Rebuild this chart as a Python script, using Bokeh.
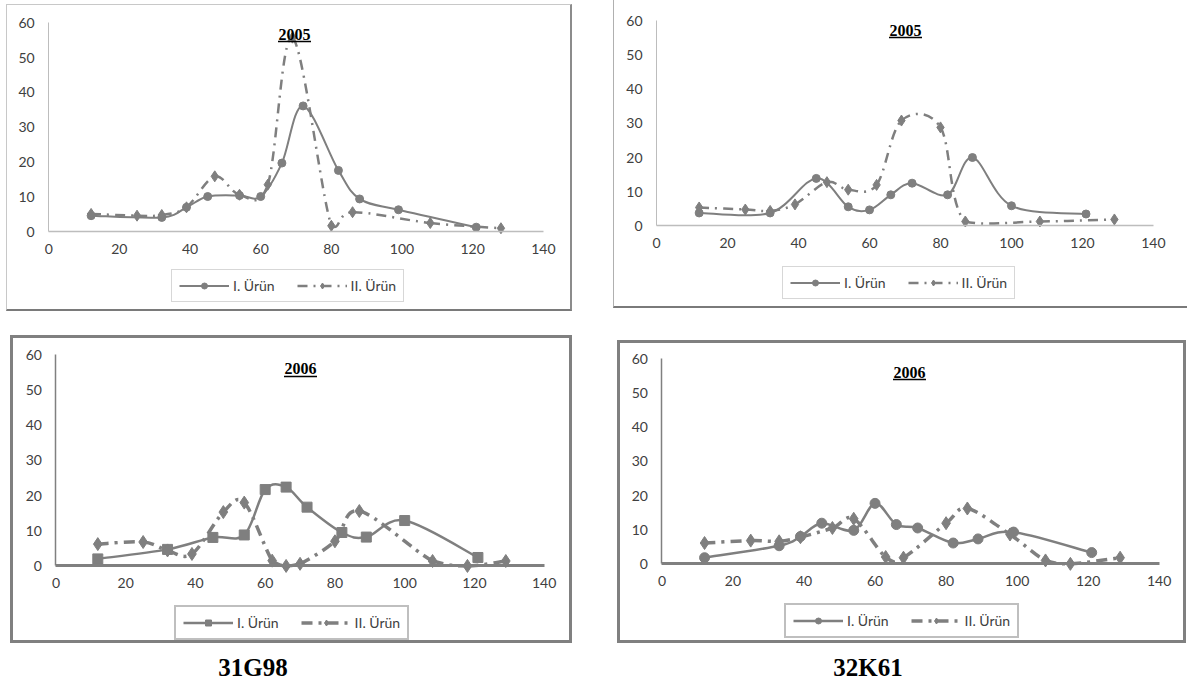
import numpy as np
from bokeh.plotting import figure
from bokeh.models import Legend, LegendItem, Label, Arrow, FixedTicker, Div
from bokeh.layouts import row, column
from bokeh.embed import file_html
from bokeh.resources import INLINE

# ---------------- data ----------------
x_ticks = [0, 20, 40, 60, 80, 100, 120, 140]
y_ticks = [0, 10, 20, 30, 40, 50, 60]
series_names = ["I. Ürün", "II. Ürün"]
panel_titles = ["2005", "2005", "2006", "2006"]
captions = ["31G98", "32K61"]

# 31G98 - 2005
g98_05_x1 = [12, 32, 39, 45, 54, 60, 66, 72, 82, 88, 99, 121]
g98_05_y1 = [4.6, 4.1, 7.0, 10.1, 10.4, 10.1, 19.7, 36.1, 17.6, 9.4, 6.3, 1.3]
g98_05_x2 = [12, 25, 32, 39, 47, 54, 62, 69, 80, 86, 108, 128]
g98_05_y2 = [5.1, 4.6, 4.8, 7.0, 15.9, 10.6, 13.5, 55.7, 1.7, 5.6, 2.5, 1.0]

# 32K61 - 2005
k61_05_x1 = [12, 32, 45, 54, 60, 66, 72, 82, 89, 100, 121]
k61_05_y1 = [3.8, 3.8, 13.9, 5.6, 4.7, 9.1, 12.5, 9.1, 20.0, 5.9, 3.5]
k61_05_x2 = [12, 25, 32, 39, 48, 54, 62, 69, 80, 87, 108, 129]
k61_05_y2 = [5.4, 4.8, 4.4, 6.3, 12.8, 10.6, 12.0, 30.8, 28.8, 1.3, 1.3, 1.9]

# 31G98 - 2006
g98_06_x1 = [12, 32, 45, 54, 60, 66, 72, 82, 89, 100, 121]
g98_06_y1 = [2.0, 4.7, 8.1, 8.8, 21.7, 22.4, 16.7, 9.5, 8.2, 12.9, 2.4]
g98_06_x2 = [12, 25, 32, 39, 48, 54, 62, 66, 70, 80, 87, 108, 118, 129]
g98_06_y2 = [6.2, 6.8, 4.4, 3.4, 15.3, 18.0, 1.5, 0.0, 0.6, 7.0, 15.6, 1.4, 0.0, 1.4]

# 32K61 - 2006
k61_06_x1 = [12, 33, 39, 45, 54, 60, 66, 72, 82, 89, 99, 121]
k61_06_y1 = [1.8, 5.3, 8.0, 11.9, 9.8, 17.7, 11.5, 10.5, 6.1, 7.3, 9.3, 3.3]
k61_06_x2 = [12, 25, 33, 39, 48, 54, 63, 68, 80, 86, 98, 108, 115, 129]
k61_06_y2 = [6.1, 6.8, 6.6, 7.8, 10.5, 13.2, 2.0, 1.8, 11.9, 16.2, 8.6, 1.0, 0.0, 1.8]

GRAY = "#7f7f7f"
TXT = "#404040"
FONT = "Lato"
X_MAX = 140
Y_MAX = 60


def smooth_controls(xs, ys):
    """Excel-like smoothed segments as cubic Bezier control points (kept >= 0)."""
    P = np.column_stack([np.asarray(xs, float), np.asarray(ys, float)])
    n = len(P)
    out = {k: [] for k in ("x0", "y0", "x1", "y1", "cx0", "cy0", "cx1", "cy1")}
    for i in range(n - 1):
        p0 = P[i - 1] if i > 0 else P[i]
        p1 = P[i]
        p2 = P[i + 1]
        p3 = P[i + 2] if i + 2 < n else P[i + 1]
        c1 = p1 + (p2 - p0) / 6.0
        c2 = p2 - (p3 - p1) / 6.0
        out["x0"].append(p1[0]); out["y0"].append(p1[1])
        out["x1"].append(p2[0]); out["y1"].append(p2[1])
        out["cx0"].append(c1[0]); out["cy0"].append(max(c1[1], 0.0))
        out["cx1"].append(c2[0]); out["cy1"].append(max(c2[1], 0.0))
    return out


def make_panel(s1, s2, title, W, H, left_px, plot_w, right_px, top_px, plot_h, below_px,
               styles, margin, heavy, legend_loc, title_xy, underline_dy, marker1):
    # the frame is the whole inner canvas; axes sit at x=0 / y=0 inside it
    ux = plot_w / X_MAX
    uy = plot_h / Y_MAX
    p = figure(width=W, height=H,
               x_range=(-left_px / ux, X_MAX + right_px / ux),
               y_range=(-below_px / uy, Y_MAX + top_px / uy),
               output_backend="svg", toolbar_location=None,
               min_border_left=0, min_border_right=0,
               min_border_top=0, min_border_bottom=0,
               margin=margin, styles=styles)
    p.outline_line_color = None
    p.xgrid.visible = False
    p.ygrid.visible = False
    p.background_fill_color = "white"
    p.border_fill_color = "white"

    for ax in (p.xaxis[0], p.yaxis[0]):
        ax.major_tick_line_color = None
        ax.minor_tick_line_color = None
        ax.major_tick_out = 0
        ax.major_tick_in = 0
        ax.minor_tick_out = 0
        ax.major_label_text_font = FONT
        ax.major_label_text_font_size = "14px"
        ax.major_label_text_color = TXT
        ax.fixed_location = 0
    p.xaxis.ticker = FixedTicker(ticks=x_ticks)
    p.yaxis.ticker = FixedTicker(ticks=y_ticks)
    p.xaxis.bounds = (0, X_MAX)
    p.yaxis.bounds = (0, Y_MAX)
    p.xaxis.major_label_standoff = 12
    p.yaxis.major_label_standoff = 14
    if heavy:
        p.xaxis.axis_line_color = "#808080"
        p.xaxis.axis_line_width = 3
        p.yaxis.axis_line_color = "#808080"
        p.yaxis.axis_line_width = 1.5
        lw1, lw2, dash2, msize = 2.5, 3.5, "11 6 3 6", 10
    else:
        p.xaxis.axis_line_color = "#bdbdbd"
        p.xaxis.axis_line_width = 1.5
        p.yaxis.axis_line_color = "#bdbdbd"
        p.yaxis.axis_line_width = 1
        lw1, lw2, dash2, msize = 2, 2.5, "10 6 2 6", 8

    (x1, y1), (x2, y2) = s1, s2
    p.bezier(line_color=GRAY, line_width=lw1, **smooth_controls(x1, y1))
    p.bezier(line_color=GRAY, line_width=lw2, line_dash=dash2, **smooth_controls(x2, y2))
    m1 = p.scatter(x1, y1, marker=marker1, size=msize, fill_color=GRAY, line_color=GRAY)
    m2 = p.scatter(x2, y2, marker="diamond", size=msize + 3, fill_color=GRAY, line_color=GRAY)
    # single-point lines: nothing visible on the plot, only used for the legend glyphs
    l1 = p.line(x=x1[:1], y=y1[:1], line_color=GRAY, line_width=lw1)
    l2 = p.line(x=x2[:1], y=y2[:1], line_color=GRAY, line_width=lw2, line_dash=dash2)

    legend = Legend(items=[LegendItem(label=series_names[0], renderers=[l1, m1]),
                           LegendItem(label=series_names[1], renderers=[l2, m2])],
                    location=legend_loc, orientation="horizontal",
                    border_line_color="#808080" if heavy else "#b0b0b0",
                    border_line_width=2.5 if heavy else 1,
                    padding=7, spacing=22, glyph_width=50, glyph_height=15,
                    label_height=15, label_standoff=4, label_text_font=FONT,
                    label_text_font_size="14px", label_text_color=TXT,
                    label_text_baseline="middle",
                    background_fill_color="white", background_fill_alpha=1,
                    margin=0)
    p.add_layout(legend)

    tx, ty = title_xy          # offsets from the (0, 0) axis corner, in pixels
    tx_s = tx + left_px
    ty_s = ty + below_px
    p.add_layout(Label(x=tx_s, y=ty_s, x_units="screen", y_units="screen", text=title,
                       text_font="Liberation Serif", text_font_style="bold",
                       text_font_size="16px", text_align="center",
                       text_baseline="middle", text_color="black"))
    p.add_layout(Arrow(start=None, end=None, x_start=tx_s - 16.5, y_start=ty_s - underline_dy,
                       x_end=tx_s + 16.5, y_end=ty_s - underline_dy,
                       start_units="screen", end_units="screen",
                       line_color="black", line_width=1.5))
    return p


p1 = make_panel((g98_05_x1, g98_05_y1), (g98_05_x2, g98_05_y2), panel_titles[0],
                W=566, H=307, left_px=41, plot_w=492, right_px=30,
                top_px=17, plot_h=207, below_px=80,
                styles={"border-top": "1px solid #c8c8c8", "border-left": "1px solid #c8c8c8",
                        "border-right": "2px solid #8c8c8c", "border-bottom": "2px solid #7a7a7a"},
                margin=(4, 0, 0, 6), heavy=False, legend_loc=(164, 10),
                title_xy=(246, 198), underline_dy=7, marker1="circle")

p2 = make_panel((k61_05_x1, k61_05_y1), (k61_05_x2, k61_05_y2), panel_titles[1],
                W=574, H=308, left_px=42, plot_w=496, right_px=35,
                top_px=20, plot_h=204, below_px=82,
                styles={"border-left": "1px solid #b0b0b0", "border-bottom": "2px solid #7a7a7a"},
                margin=(0, 0, 0, 41), heavy=False, legend_loc=(168, 9),
                title_xy=(249, 196), underline_dy=7, marker1="circle")

p3 = make_panel((g98_06_x1, g98_06_y1), (g98_06_x2, g98_06_y2), panel_titles[2],
                W=562, H=308, left_px=42, plot_w=483, right_px=31,
                top_px=16, plot_h=207, below_px=79,
                styles={"border": "3px solid #808080"},
                margin=(24, 0, 0, 10), heavy=True, legend_loc=(161, 6),
                title_xy=(245, 199), underline_dy=8, marker1="square")

p4 = make_panel((k61_06_x1, k61_06_y1), (k61_06_x2, k61_06_y2), panel_titles[3],
                W=569, H=303, left_px=41, plot_w=492, right_px=30,
                top_px=15, plot_h=201, below_px=81,
                styles={"border": "3px solid #808080"},
                margin=(29, 0, 0, 45), heavy=True, legend_loc=(164, 8),
                title_xy=(248, 193), underline_dy=7, marker1="circle")

cap_style = {"font-family": "Liberation Serif", "font-weight": "bold", "font-size": "25px",
             "line-height": "20px", "text-align": "center", "color": "black"}
d1 = Div(text=captions[0], width=160, height=20, margin=(15, 0, 0, 173), styles=cap_style)
d2 = Div(text=captions[1], width=160, height=20, margin=(15, 0, 0, 455), styles=cap_style)

layout = column(row(p1, p2), row(p3, p4), row(d1, d2))

open("out.html", "w").write(file_html(layout, INLINE))
